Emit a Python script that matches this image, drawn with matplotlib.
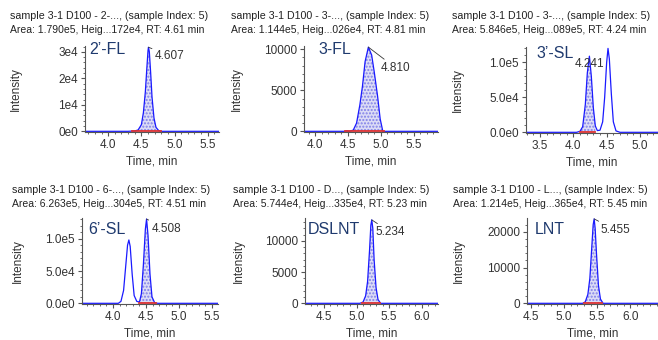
import numpy as np
import matplotlib.pyplot as plt
from matplotlib.ticker import MultipleLocator, AutoMinorLocator, FixedLocator, FixedFormatter

plt.rcParams['font.family'] = ['Liberation Sans', 'DejaVu Sans']

# datos (tiempo [min], intensidad)
t1 = [3.65, 4.30, 4.40, 4.45, 4.50, 4.53, 4.56, 4.58, 4.60, 4.607, 4.62, 4.64, 4.66, 4.69, 4.72, 4.76, 4.80, 5.67]
i1 = [0, 0, 150, 500, 2500, 7000, 15000, 23000, 30500, 31720, 30000, 22000, 13000, 5000, 1500, 300, 0, 0]

t2 = [3.83, 4.45, 4.48, 4.52, 4.58, 4.63, 4.68, 4.72, 4.76, 4.81, 4.86, 4.90, 4.95, 4.99, 5.03, 5.87]
i2 = [0, 0, 60, 0, 150, 1000, 3200, 5500, 8500, 10260, 9300, 7200, 4300, 1500, 0, 0]

t3 = [3.29, 4.05, 4.10, 4.14, 4.18, 4.21, 4.241, 4.27, 4.30, 4.33, 4.36, 4.40, 4.44, 4.47, 4.50, 4.52, 4.54, 4.57, 4.60, 4.64, 4.70, 5.27]
i3 = [0, 0, 1500, 8000, 40000, 85000, 108900, 80000, 35000, 9000, 2500, 3000, 15000, 50000, 100000, 120000, 105000, 55000, 15000, 2000, 0, 0]

t4 = [3.53, 4.08, 4.12, 4.16, 4.19, 4.22, 4.24, 4.26, 4.29, 4.32, 4.36, 4.40, 4.43, 4.46, 4.49, 4.508, 4.53, 4.56, 4.59, 4.63, 4.68, 5.59]
i4 = [0, 0, 3000, 20000, 55000, 90000, 98000, 88000, 45000, 12000, 3000, 2000, 15000, 60000, 115000, 130400, 105000, 45000, 10000, 1000, 0, 0]

t5 = [4.21, 5.05, 5.10, 5.14, 5.17, 5.20, 5.22, 5.234, 5.25, 5.27, 5.30, 5.33, 5.37, 6.25]
i5 = [0, 0, 200, 1200, 3500, 8500, 12500, 13350, 12000, 7000, 2500, 600, 0, 0]

t6 = [4.44, 5.28, 5.32, 5.36, 5.39, 5.42, 5.44, 5.455, 5.47, 5.49, 5.52, 5.55, 5.59, 6.42]
i6 = [0, 0, 400, 2500, 7000, 16000, 22000, 23650, 21000, 14000, 5000, 1200, 0, 0]

compuestos = ["2\u2019-FL", "3-FL", "3\u2019-SL", "6\u2019-SL", "DSLNT", "LNT"]
muestras = ["2-...", "3-...", "3-...", "6-...", "D...", "L..."]
areas = ["1.790e5", "1.144e5", "5.846e5", "6.263e5", "5.744e4", "1.214e5"]
alturas = ["172e4", "026e4", "089e5", "304e5", "335e4", "365e4"]
rts = ["4.61", "4.81", "4.24", "4.51", "5.23", "5.45"]
picos = [4.607, 4.810, 4.241, 4.508, 5.234, 5.455]
alt_pico = [31720, 10260, 108900, 130400, 13350, 23650]
integ_ini = [4.36, 4.45, 4.10, 4.40, 5.08, 5.30]
integ_fin = [4.79, 5.05, 4.33, 4.65, 5.36, 5.58]

yticks = [[0, 1e4, 2e4, 3e4], [0, 5000, 10000], [0, 5e4, 1e5],
          [0, 5e4, 1e5], [0, 5000, 10000], [0, 10000, 20000]]
yticklabels = [["0e0", "1e4", "2e4", "3e4"], ["0", "5000", "10000"], ["0.0e0", "5.0e4", "1.0e5"],
               ["0.0e0", "5.0e4", "1.0e5"], ["0", "5000", "10000"], ["0", "10000", "20000"]]
xlims = [(3.65, 5.67), (3.83, 5.87), (3.29, 5.27), (3.53, 5.59), (4.21, 6.25), (4.44, 6.42)]
ytop = [32200, 10400, 122000, 132000, 13650, 23900]

# layout en pixeles
W, H = 658, 340
izq = [85, 304, 526, 82, 305, 527]
der = [219, 438, 658, 218, 438, 658]
arr = [46, 46, 47, 218, 218, 218]
aba = [132, 132, 133, 304, 304, 304]
tit_x = [10, 231, 452, 12, 233, 453]
tit_y = [16, 16, 16, 190, 190, 190]
comp_x = [89, 318, 536, 88, 308, 535]
comp_y = [50, 50, 53, 230, 230, 229]
lab_off = [(4.5, -6), (9, -15), None, (3.5, -7), (3, -9), (4.5, -8)]

tiempos = [t1, t2, t3, t4, t5, t6]
intens = [i1, i2, i3, i4, i5, i6]

fig = plt.figure(figsize=(W / 100, H / 100), dpi=100)

for k in range(6):
    ax = fig.add_axes([izq[k] / W, 1 - aba[k] / H, (der[k] - izq[k]) / W, (aba[k] - arr[k]) / H])
    t = np.array(tiempos[k])
    y = np.array(intens[k])
    ax.set_xlim(*xlims[k])
    ax.set_ylim(-0.008 * ytop[k], ytop[k])

    # area integrada
    tt = np.linspace(integ_ini[k], integ_fin[k], 200)
    yy = np.interp(tt, t, y)
    ax.fill_between(tt, 0, yy, facecolor='#dcdcf6', hatch='.....', edgecolor='#8080e8', linewidth=0)
    ax.plot(t, y, color='#1a1aff', lw=0.9)
    ax.plot([integ_ini[k], integ_fin[k]], [0, 0], color='#e03030', lw=1.3)

    for s in ['top', 'right']:
        ax.spines[s].set_visible(False)
    ax.spines['left'].set_color('#555555')
    ax.spines['bottom'].set_color('#555555')
    ax.spines['left'].set_linewidth(0.8)
    ax.spines['bottom'].set_linewidth(0.8)

    ax.xaxis.set_major_locator(MultipleLocator(0.5))
    ax.xaxis.set_minor_locator(MultipleLocator(0.1))
    ax.xaxis.set_major_formatter(plt.FuncFormatter(lambda v, p: '%.1f' % v))
    ax.yaxis.set_major_locator(FixedLocator(yticks[k]))
    ax.yaxis.set_major_formatter(FixedFormatter(yticklabels[k]))
    ax.yaxis.set_minor_locator(AutoMinorLocator(5))
    ax.tick_params(which='major', length=3, width=0.8, color='#555555', labelsize=8.5,
                   labelcolor='#333333', pad=2)
    ax.tick_params(which='minor', length=1.5, width=0.6, color='#555555')

    ax.set_xlabel('Time, min', fontsize=8.5, color='#333333', labelpad=3)
    ax.set_ylabel('Intensity', fontsize=8.5, color='#333333')
    ax.yaxis.set_label_coords((tit_x[k] + 12 - izq[k]) / (der[k] - izq[k]), 0.5)

    # etiqueta del pico
    if lab_off[k] is None:
        ax.text(picos[k], alt_pico[k] * 0.9, '%.3f' % picos[k], ha='center', va='center',
                fontsize=8.5, color='#333333')
    else:
        ax.annotate('%.3f' % picos[k], xy=(picos[k], alt_pico[k]), xytext=lab_off[k],
                    textcoords='offset points', ha='left', va='center', fontsize=8.5,
                    color='#333333',
                    arrowprops=dict(arrowstyle='-', color='#333333', lw=0.6, shrinkA=0, shrinkB=0))

    fig.text(comp_x[k] / W, 1 - comp_y[k] / H, compuestos[k], fontsize=11.5, color='#1f3a6e',
             ha='left', va='center')
    fig.text(tit_x[k] / W, 1 - tit_y[k] / H,
             'sample 3-1 D100 - ' + muestras[k] + ', (sample Index: 5)',
             fontsize=7.7, color='#222222', ha='left', va='center')
    fig.text(tit_x[k] / W, 1 - (tit_y[k] + 14) / H,
             'Area: ' + areas[k] + ', Heig...' + alturas[k] + ', RT: ' + rts[k] + ' min',
             fontsize=7.5, color='#222222', ha='left', va='center')

fig.savefig('out.png', dpi=100)
